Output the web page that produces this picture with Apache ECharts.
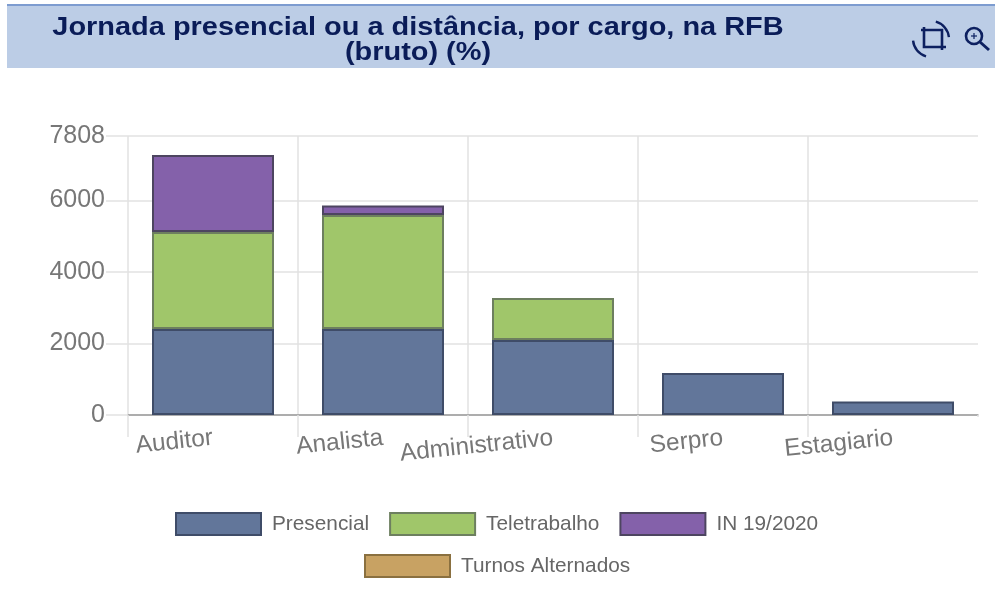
<!DOCTYPE html>
<html>
<head>
<meta charset="utf-8">
<title>Jornada presencial ou a distância</title>
<script src="https://cdn.jsdelivr.net/npm/echarts@6/dist/echarts.min.js"></script>
<style>
  html, body { margin: 0; padding: 0; background: #fff; }
  #chart { width: 995px; height: 591px; }
</style>
</head>
<body>
<div id="chart"></div>
<script>
  var categories = ['Auditor', 'Analista', 'Administrativo', 'Serpro', 'Estagiario'];
  var presencial = [2407, 2407, 2100, 1175, 380];
  var teletrabalho = [2715, 3190, 1175, null, null];
  var in192020 = [2155, 268, null, null, null];
  var turnosAlternados = [null, null, null, null, null];

  function barSeries(name, data, color, border) {
    return {
      name: name,
      type: 'bar',
      stack: 'total',
      barWidth: 122,
      data: data,
      itemStyle: { color: color, borderColor: border, borderWidth: 2 }
    };
  }

  function iconLine(points) {
    return {
      type: 'polyline',
      z: 5,
      shape: { points: points },
      style: { fill: 'none', stroke: '#0d2060', lineWidth: 2.6 }
    };
  }

  function iconArc(cx, cy, r, from, to) {
    return {
      type: 'arc',
      z: 5,
      shape: { cx: cx, cy: cy, r: r, startAngle: from, endAngle: to },
      style: { fill: 'none', stroke: '#0d2060', lineWidth: 2.4 }
    };
  }

  var legendText = {
    color: '#666',
    fontSize: 20.8,
    fontFamily: 'Liberation Sans',
    padding: [0, 0, 0, 6]
  };

  var option = {
    animation: false,
    graphic: [
      { type: 'rect', z: -1, shape: { x: 7, y: 4, width: 988, height: 64 }, style: { fill: '#bccde6' } },
      { type: 'rect', z: -1, shape: { x: 7, y: 4, width: 988, height: 2 }, style: { fill: '#7d9cd0' } },
      // titulo esticado na horizontal, como na imagem
      {
        type: 'text',
        z: 5,
        x: 418,
        y: 16,
        scaleX: 1.157,
        style: {
          text: 'Jornada presencial ou a distância, por cargo, na RFB\n(bruto) (%)',
          fill: '#0a1c58',
          font: 'bold 25px "Liberation Sans"',
          lineHeight: 25,
          align: 'center',
          verticalAlign: 'top'
        }
      },
      // icones da barra de ferramentas
      iconLine([[921, 30], [942, 30], [942, 50]]),
      iconLine([[924, 27], [924, 47], [946, 47]]),
      iconArc(931, 39, 18, -1.3, -0.1),
      iconArc(931, 39, 18, 1.85, 3.05),
      { type: 'circle', z: 5, shape: { cx: 974, cy: 36, r: 8 }, style: { fill: 'none', stroke: '#0d2060', lineWidth: 2.6 } },
      { type: 'line', z: 5, shape: { x1: 980, y1: 42, x2: 989, y2: 50 }, style: { stroke: '#0d2060', lineWidth: 3 } },
      { type: 'line', z: 5, shape: { x1: 971, y1: 36, x2: 977, y2: 36 }, style: { stroke: '#0d2060', lineWidth: 1.2 } },
      { type: 'line', z: 5, shape: { x1: 974, y1: 33, x2: 974, y2: 39 }, style: { stroke: '#0d2060', lineWidth: 1.2 } },
      // a imagem nao tem o ultimo tick do eixo x
      { type: 'rect', z: 10, shape: { x: 975, y: 417, width: 6, height: 22 }, style: { fill: '#fff' } }
    ],
    legend: [{
      left: 170,
      top: 507,
      itemWidth: 85,
      itemHeight: 22,
      itemGap: 20,
      icon: 'rect',
      data: ['Presencial', 'Teletrabalho', 'IN 19/2020'],
      textStyle: legendText
    }, {
      left: 359,
      top: 549,
      itemWidth: 85,
      itemHeight: 22,
      icon: 'rect',
      data: ['Turnos Alternados'],
      textStyle: legendText
    }],
    grid: { left: 128, right: 17, top: 136, bottom: 176 },
    xAxis: {
      type: 'category',
      data: categories,
      axisLine: { lineStyle: { color: '#999', width: 1.5 } },
      axisTick: { show: true, length: 22, lineStyle: { color: '#e2e2e2', width: 1.5 } },
      splitLine: { show: true, showMaxLine: false, lineStyle: { color: '#e2e2e2', width: 1.5 } },
      axisLabel: {
        rotate: 6,
        margin: 23,
        interval: 0,
        color: '#777',
        fontSize: 24.5,
        fontFamily: 'Liberation Sans'
      }
    },
    yAxis: {
      type: 'value',
      min: 0,
      max: 7808,
      interval: 2000,
      axisLine: { show: false },
      axisTick: { show: true, length: 22, lineStyle: { color: '#e2e2e2', width: 1.5 } },
      splitLine: { lineStyle: { color: '#e2e2e2', width: 1.5 } },
      axisLabel: {
        margin: 23,
        color: '#777',
        fontSize: 25,
        fontFamily: 'Liberation Sans',
        formatter: function(value) { return String(value); }
      }
    },
    series: [
      barSeries('Presencial', presencial, '#62769a', '#3f4c68'),
      barSeries('Teletrabalho', teletrabalho, '#a0c66a', '#6d7f5f'),
      barSeries('IN 19/2020', in192020, '#8461aa', '#4d4560'),
      barSeries('Turnos Alternados', turnosAlternados, '#c8a263', '#8a7040')
    ]
  };

  var chartInstance = echarts.init(document.getElementById('chart'));
  chartInstance.setOption(option);
</script>
</body>
</html>
